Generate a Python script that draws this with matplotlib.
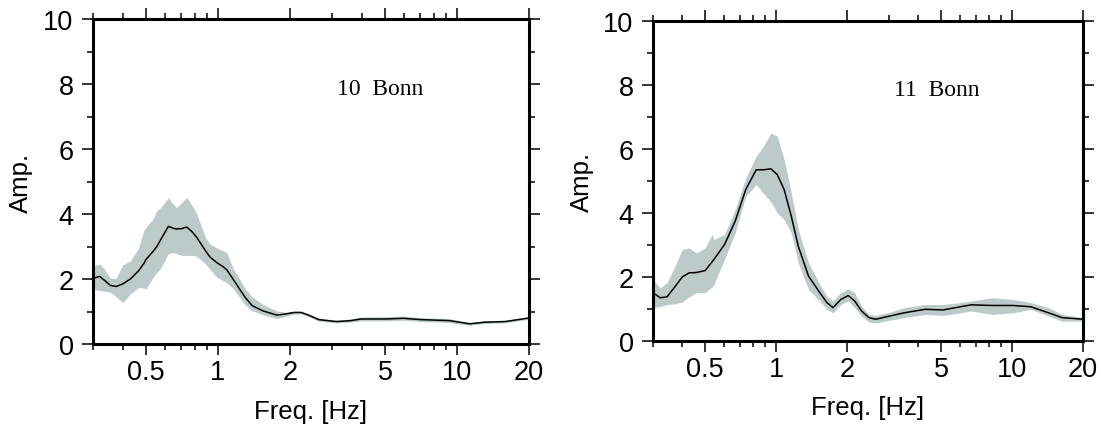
import numpy as np
import matplotlib
matplotlib.use("Agg")
from matplotlib import pyplot as plt
from matplotlib.ticker import FixedLocator, NullFormatter

plt.rcParams['font.family'] = ['Liberation Sans', 'DejaVu Sans']

# ---- panel 1: "10 Bonn" ----
freq_10 = [0.30, 0.32, 0.335, 0.355, 0.375, 0.40, 0.43, 0.465, 0.49, 0.50,
           0.535, 0.555, 0.575, 0.62, 0.65, 0.67, 0.705, 0.74, 0.78, 0.815,
           0.89, 0.925, 0.99, 1.05, 1.09, 1.16, 1.30, 1.39, 1.54, 1.76,
           1.91, 2.08, 2.23, 2.39, 2.64, 3.13, 3.59, 3.97, 5.03, 5.96,
           7.07, 9.27, 11.3, 13.0, 15.9, 20.0]
mean_10 = [2.02, 2.08, 1.96, 1.80, 1.77, 1.85, 2.00, 2.25, 2.48, 2.60,
           2.85, 3.00, 3.20, 3.62, 3.56, 3.54, 3.55, 3.60, 3.45, 3.28,
           2.85, 2.68, 2.50, 2.38, 2.28, 1.98, 1.43, 1.18, 1.02, 0.89,
           0.92, 0.97, 0.97, 0.89, 0.75, 0.69, 0.72, 0.77, 0.77, 0.79,
           0.75, 0.72, 0.62, 0.67, 0.69, 0.80]
lo_10 = [1.68, 1.65, 1.62, 1.59, 1.45, 1.28, 1.54, 1.74, 1.72, 1.69,
         2.05, 2.20, 2.33, 2.78, 2.82, 2.78, 2.73, 2.72, 2.73, 2.70,
         2.45, 2.30, 2.05, 1.95, 1.88, 1.70, 1.20, 1.02, 0.90, 0.78,
         0.85, 0.92, 0.92, 0.84, 0.70, 0.65, 0.67, 0.71, 0.71, 0.73,
         0.69, 0.66, 0.58, 0.63, 0.65, 0.76]
hi_10 = [2.40, 2.46, 2.30, 2.02, 2.02, 2.44, 2.56, 2.95, 3.50, 3.60,
         3.85, 4.10, 4.20, 4.50, 4.30, 4.20, 4.35, 4.51, 4.25, 4.00,
         3.25, 3.08, 2.95, 2.87, 2.80, 2.31, 1.70, 1.45, 1.22, 1.02,
         0.98, 1.01, 1.01, 0.93, 0.80, 0.73, 0.77, 0.83, 0.84, 0.86,
         0.81, 0.78, 0.67, 0.71, 0.73, 0.84]

# ---- panel 2: "11 Bonn" ----
freq_11 = [0.30, 0.322, 0.344, 0.372, 0.399, 0.427, 0.458, 0.499, 0.535, 0.544,
           0.603, 0.669, 0.742, 0.822, 0.88, 0.949, 1.01, 1.08, 1.158, 1.24,
           1.37, 1.53, 1.64, 1.74, 1.88, 2.02, 2.15, 2.30, 2.47, 2.64,
           3.03, 3.48, 4.28, 5.09, 6.04, 6.70, 8.23, 10.1, 12.0, 14.3,
           16.3, 20.0]
mean_11 = [1.51, 1.35, 1.38, 1.70, 2.00, 2.13, 2.14, 2.20, 2.48, 2.55,
           3.01, 3.74, 4.73, 5.35, 5.35, 5.38, 5.20, 4.73, 3.90, 2.96,
           2.03, 1.51, 1.20, 1.04, 1.30, 1.42, 1.25, 0.94, 0.73, 0.68,
           0.78, 0.88, 0.99, 0.97, 1.07, 1.13, 1.11, 1.11, 1.07, 0.88,
           0.73, 0.68]
lo_11 = [1.04, 1.08, 1.14, 1.16, 1.22, 1.38, 1.51, 1.51, 1.70, 1.77,
         2.55, 3.38, 4.52, 4.89, 4.62, 4.35, 4.00, 3.79, 3.38, 2.44,
         1.61, 1.25, 0.99, 0.88, 1.14, 1.25, 1.04, 0.78, 0.59, 0.57,
         0.65, 0.73, 0.83, 0.80, 0.88, 0.94, 0.83, 0.88, 0.99, 0.78,
         0.62, 0.62]
hi_11 = [1.92, 1.66, 1.82, 2.34, 2.86, 2.91, 2.75, 2.91, 3.33, 3.17,
         3.33, 4.10, 5.09, 5.77, 6.08, 6.50, 6.40, 5.67, 4.63, 3.48,
         2.44, 1.77, 1.40, 1.25, 1.51, 1.63, 1.51, 1.09, 0.83, 0.80,
         0.90, 1.04, 1.14, 1.14, 1.20, 1.25, 1.35, 1.30, 1.20, 1.04,
         0.83, 0.73]

station_labels = ["10  Bonn", "11  Bonn"]
xtick_major = [0.5, 1, 2, 5, 10, 20]
xtick_labels = ["0.5", "1", "2", "5", "10", "20"]
xtick_minor = [0.3, 0.4, 0.6, 0.7, 0.8, 0.9, 3, 4, 6, 7, 8, 9]

band_color = '#bdcaca'

W, H = 1101, 427
fig = plt.figure(figsize=(W / 100, H / 100), dpi=100)

# axes boxes in pixels: left, top, right, bottom
boxes = [(93, 20, 529, 345), (653, 22, 1083, 342)]
series = [(freq_10, mean_10, lo_10, hi_10), (freq_11, mean_11, lo_11, hi_11)]

for (l, t, r, b), (f, m, lo, hi), name in zip(boxes, series, station_labels):
    ax = fig.add_axes([l / W, 1 - b / H, (r - l) / W, (b - t) / H])
    ax.fill_between(f, lo, hi, color=band_color, lw=0)
    ax.plot(f, m, color='k', lw=1.1)

    ax.set_xscale('log')
    ax.set_xlim(0.3, 20)
    ax.set_ylim(0, 10)

    ax.xaxis.set_major_locator(FixedLocator(xtick_major))
    ax.set_xticklabels(xtick_labels)
    ax.xaxis.set_minor_locator(FixedLocator(xtick_minor))
    ax.xaxis.set_minor_formatter(NullFormatter())
    ax.yaxis.set_major_locator(FixedLocator([0, 2, 4, 6, 8, 10]))
    ax.yaxis.set_minor_locator(FixedLocator([1, 3, 5, 7, 9]))

    ax.tick_params(which='both', direction='out', top=True, right=True,
                   width=1.1, colors='k')
    ax.tick_params(which='major', length=8, labelsize=19.5)
    ax.tick_params(which='minor', length=4.3)
    ax.tick_params(axis='x', which='major', pad=3)
    ax.tick_params(axis='y', which='major', pad=6)

    for s in ax.spines.values():
        s.set_linewidth(2.2)

    ax.set_xlabel('Freq. [Hz]', fontsize=18.5, va='center')
    ax.xaxis.set_label_coords(0.5, -0.205)
    ax.set_ylabel('Amp.', fontsize=18.5, va='center')
    ax.yaxis.set_label_coords(-0.165, 0.5)

    ax.text(0.56, 7.85, name, family='Liberation Serif', fontsize=17,
            ha='left', va='center', transform=ax.get_yaxis_transform())

fig.savefig('out.png', dpi=100)
